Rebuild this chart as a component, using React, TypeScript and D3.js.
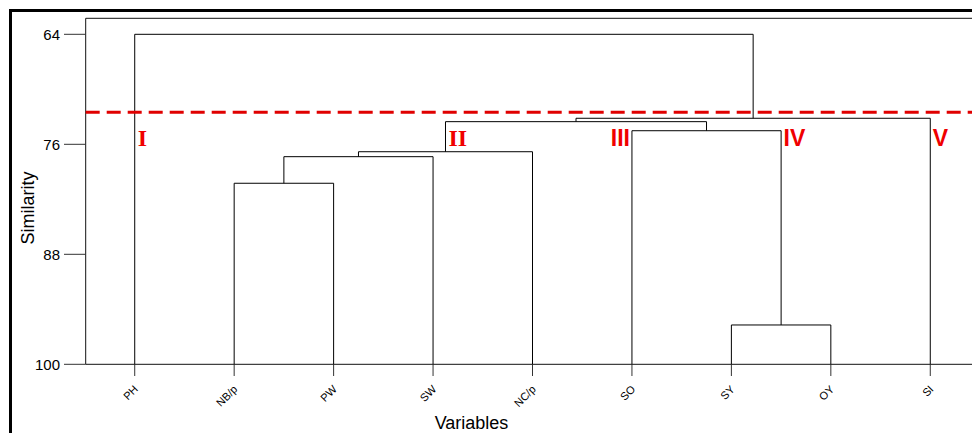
import React, { useEffect, useRef } from "react";
import * as d3 from "d3";

// leaves in dendrogram order
const variables = ["PH", "NB/p", "PW", "SW", "NC/p", "SO", "SY", "OY", "SI"];

// hclust-style merge table: negative = leaf (1-based), positive = earlier merge
const mergeLeft = [-2, 1, 2, -7, -6, 3, 6, -1];
const mergeRight = [-3, -4, -5, -8, 4, 5, -9, 7];
const mergeHeight = [80.25, 77.35, 76.81, 95.71, 74.52, 73.53, 73.16, 64.0];

const yTicks = [64, 76, 88, 100];
const cutLevel = 72.5;

const clusterLabels = ["I", "II", "III", "IV", "V"];
const clusterNode = [-1, 3, -6, 4, -9];

const App: React.FC = () => {
  const svgRef = useRef<SVGSVGElement | null>(null);

  useEffect(() => {
    if (!svgRef.current) return;
    const svg = d3.select(svgRef.current);
    svg.selectAll("*").remove();

    const left = 85.7;
    const top = 18.3;
    const bottom = 364.3;

    const x = d3.scalePoint<string>().domain(variables).range([85, 980]).padding(0.5);
    const y = d3.scaleLinear().domain([64, 100]).range([34.3, 364.3]);

    // outer frame
    svg.append("rect")
      .attr("x", 10.5).attr("y", 10.5)
      .attr("width", 1000).attr("height", 500)
      .attr("fill", "none").attr("stroke", "#000").attr("stroke-width", 3);

    // plot box (top + left + bottom)
    svg.append("path")
      .attr("d", `M1000,${top}H${left}V${bottom}H1000`)
      .attr("fill", "none").attr("stroke", "#111").attr("stroke-width", 1);

    // y axis ticks + labels
    const yg = svg.append("g");
    yg.selectAll("line").data(yTicks).enter().append("line")
      .attr("x1", 64).attr("x2", left)
      .attr("y1", d => y(d)).attr("y2", d => y(d))
      .attr("stroke", "#333");
    yg.selectAll("text").data(yTicks).enter().append("text")
      .attr("x", 60).attr("y", d => y(d)).attr("dy", "0.36em")
      .attr("text-anchor", "end")
      .style("font", "15px 'Liberation Sans', Arial, sans-serif")
      .text(d => d);

    // x axis ticks + labels
    const xg = svg.append("g");
    xg.selectAll("line").data(variables).enter().append("line")
      .attr("x1", d => x(d)!).attr("x2", d => x(d)!)
      .attr("y1", bottom).attr("y2", 376)
      .attr("stroke", "#333");
    xg.selectAll("text").data(variables).enter().append("text")
      .attr("transform", d => `translate(${x(d)! + 4},390) rotate(-45)`)
      .attr("text-anchor", "end")
      .style("font", "11px 'Liberation Sans', Arial, sans-serif")
      .text(d => d);

    // axis titles
    svg.append("text")
      .attr("transform", "translate(34,208) rotate(-90)")
      .attr("text-anchor", "middle")
      .style("font", "18px 'Liberation Sans', Arial, sans-serif")
      .text("Similarity");
    svg.append("text")
      .attr("x", 471.5).attr("y", 429)
      .attr("text-anchor", "middle")
      .style("font", "18px 'Liberation Sans', Arial, sans-serif")
      .text("Variables");

    // dendrogram
    const nodeX: number[] = [];
    const nodeY: number[] = [];
    const pos = (id: number): [number, number] =>
      id < 0 ? [x(variables[-id - 1])!, y(100)] : [nodeX[id - 1], nodeY[id - 1]];

    const dg = svg.append("g").attr("fill", "none").attr("stroke", "#000").attr("stroke-width", 1);
    mergeHeight.forEach((h, i) => {
      const [lx, ly] = pos(mergeLeft[i]);
      const [rx, ry] = pos(mergeRight[i]);
      const hy = y(h);
      const path = d3.path();
      path.moveTo(lx, ly);
      path.lineTo(lx, hy);
      path.lineTo(rx, hy);
      path.lineTo(rx, ry);
      dg.append("path").attr("d", path.toString());
      nodeX.push((lx + rx) / 2);
      nodeY.push(hy);
    });

    // cut line
    svg.append("line")
      .attr("x1", left).attr("x2", 972)
      .attr("y1", y(cutLevel)).attr("y2", y(cutLevel))
      .attr("stroke", "#e00000").attr("stroke-width", 3)
      .attr("stroke-dasharray", "14,7");

    // cluster labels
    clusterLabels.forEach((lab, i) => {
      const [nx] = pos(clusterNode[i]);
      const serif = i < 2;
      const endAnchor = lab === "III";
      svg.append("text")
        .attr("x", endAnchor ? nx - 2 : nx + (serif ? 3 : 2.5))
        .attr("y", 146)
        .attr("text-anchor", endAnchor ? "end" : "start")
        .attr("fill", "#f00000")
        .style("font-weight", "bold")
        .style("font-family", serif ? "'Liberation Serif', 'Times New Roman', serif" : "'Liberation Sans', Arial, sans-serif")
        .style("font-size", serif ? "24px" : "23px")
        .text(lab);
    });
  }, []);

  return (
    <svg
      ref={svgRef}
      width={972}
      height={433}
      style={{ position: "absolute", left: 0, top: 0, background: "#fff" }}
    ></svg>
  );
};

export default App;
